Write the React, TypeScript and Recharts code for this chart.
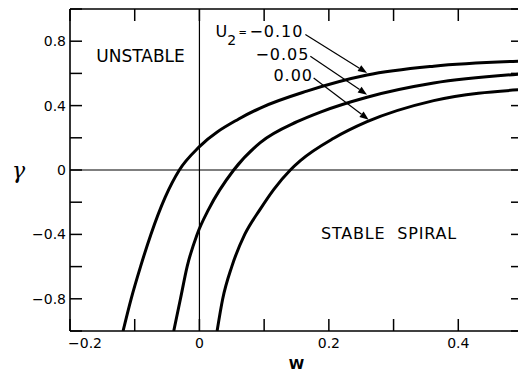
import React from "react";
import { LineChart, Line, XAxis, YAxis, ReferenceLine, ReferenceDot, Label } from "recharts";

// ---- data ----
const wA = [-0.118, -0.1055, -0.091, -0.075, -0.053, -0.031, 0, 0.0607, 0.094, 0.166, 0.259, 0.362, 0.5];
const gA = [-1.0, -0.8, -0.6, -0.4, -0.17, 0, 0.145, 0.317, 0.385, 0.49, 0.59, 0.645, 0.677];

const wB = [-0.0397, -0.0293, -0.019, -0.0036, 0.0144, 0.053, 0.094, 0.151, 0.187, 0.259, 0.362, 0.5];
const gB = [-1.0, -0.8, -0.6, -0.4, -0.243, 0, 0.17, 0.3, 0.36, 0.452, 0.54, 0.597];

const wC = [0.0273, 0.036, 0.05, 0.07, 0.094, 0.115, 0.1405, 0.156, 0.2075, 0.259, 0.362, 0.5];
const gC = [-1.0, -0.8, -0.6, -0.4, -0.243, -0.12, 0, 0.058, 0.197, 0.3, 0.431, 0.5];

const xTicks = [-0.2, -0.1, 0, 0.1, 0.2, 0.3, 0.4, 0.5];
const xTickLabels = ["\u22120.2", "", "0", "", "0.2", "", "0.4", ""];
const yTicks = [-1, -0.8, -0.6, -0.4, -0.2, 0, 0.2, 0.4, 0.6, 0.8, 1];
const yTickLabels = ["", "\u22120.8", "", "\u22120.4", "", "0", "", "0.4", "", "0.8", ""];

const legendValues = ["\u22120.10", "\u22120.05", "0.00"];
const legendW = [0.0247, 0.0865, 0.1143];
const legendG = [0.823, 0.686, 0.552];
const arrowStartW = [0.1637, 0.1714, 0.1765];
const arrowStartG = [0.842, 0.707, 0.572];
const arrowEndW = [0.259, 0.259, 0.2615];
const arrowEndG = [0.603, 0.468, 0.312];

const regionLabels = ["UNSTABLE", "STABLE SPIRAL"];
const regionW = [-0.091, 0.293];
const regionG = [0.705, -0.392];

const toRows = (w: number[], g: number[]) => w.map((v, i) => ({ w: v, g: g[i] }));
const dataA = toRows(wA, gA);
const dataB = toRows(wB, gB);
const dataC = toRows(wC, gC);

const FONT = "DejaVu Sans, Liberation Sans, Arial, sans-serif";
const TICK_LEN = 12;

const labelFor = (ticks: number[], labels: string[], v: number) => {
  const i = ticks.findIndex((t) => Math.abs(t - v) < 1e-9);
  return i >= 0 ? labels[i] : "";
};

const BottomTick = (props: any) => {
  const { x, y, payload, index } = props;
  const lab = labelFor(xTicks, xTickLabels, payload.value);
  const first = index === 0;
  return (
    <g>
      <line x1={x} y1={y} x2={x} y2={y - TICK_LEN} stroke="#000" strokeWidth={1.5} />
      {lab ? (
        <text x={first ? x - 2 : x} y={y + 17} textAnchor={first ? "start" : "middle"} fontSize={14} fontFamily={FONT} fill="#000">
          {lab}
        </text>
      ) : null}
    </g>
  );
};

const TopTick = (props: any) => {
  const { x, y } = props;
  return <line x1={x} y1={y} x2={x} y2={y + TICK_LEN} stroke="#000" strokeWidth={1.5} />;
};

const LeftTick = (props: any) => {
  const { x, y, payload } = props;
  const lab = labelFor(yTicks, yTickLabels, payload.value);
  return (
    <g>
      <line x1={x} y1={y} x2={x + TICK_LEN} y2={y} stroke="#000" strokeWidth={1.5} />
      {lab ? (
        <text x={x - 4} y={y + 5} textAnchor="end" fontSize={14} fontFamily={FONT} fill="#000">
          {lab}
        </text>
      ) : null}
    </g>
  );
};

const RightTick = (props: any) => {
  const { x, y } = props;
  return <line x1={x} y1={y} x2={x - TICK_LEN} y2={y} stroke="#000" strokeWidth={1.5} />;
};

const Arrow = (props: any) => {
  const { x1, y1, x2, y2 } = props;
  const ang = Math.atan2(y2 - y1, x2 - x1);
  const L = 9;
  const H = 3.5;
  const bx = x2 - L * Math.cos(ang);
  const by = y2 - L * Math.sin(ang);
  const px = -Math.sin(ang) * H;
  const py = Math.cos(ang) * H;
  return (
    <g>
      <line x1={x1} y1={y1} x2={bx} y2={by} stroke="#000" strokeWidth={1.2} />
      <polygon points={`${x2},${y2} ${bx + px},${by + py} ${bx - px},${by - py}`} fill="#000" />
    </g>
  );
};

export default function App() {
  return (
    <div style={{ position: "fixed", left: 0, top: 0, width: 518, height: 371, overflow: "hidden", background: "#fff" }}>
      <LineChart width={540} height={371} margin={{ top: 8, right: 16, bottom: 0, left: 10 }}>
        <XAxis
          xAxisId="b"
          type="number"
          dataKey="w"
          domain={[-0.2, 0.5]}
          ticks={xTicks}
          allowDataOverflow
          orientation="bottom"
          height={40}
          tickSize={0}
          tickMargin={0}
          tickLine={false}
          tick={<BottomTick />}
          interval={0}
          axisLine={{ stroke: "#000", strokeWidth: 1.6 }}
        >
          <Label value="W" position="insideBottom" offset={2} fontSize={14} fontWeight={600} fontFamily={FONT} fill="#000" />
        </XAxis>
        <XAxis
          xAxisId="t"
          type="number"
          dataKey="w"
          domain={[-0.2, 0.5]}
          ticks={xTicks}
          allowDataOverflow
          orientation="top"
          height={1}
          tickSize={0}
          tickMargin={0}
          tickLine={false}
          tick={<TopTick />}
          interval={0}
          axisLine={{ stroke: "#000", strokeWidth: 1.6 }}
        />
        <YAxis
          yAxisId="l"
          type="number"
          domain={[-1, 1]}
          ticks={yTicks}
          allowDataOverflow
          orientation="left"
          width={60}
          tickSize={0}
          tickMargin={0}
          tickLine={false}
          tick={<LeftTick />}
          interval={0}
          axisLine={{ stroke: "#000", strokeWidth: 1.6 }}
        >
          <Label value="γ" position="insideLeft" offset={2} fontSize={22} fontStyle="italic" fontFamily="DejaVu Serif, serif" fill="#000" />
        </YAxis>
        <YAxis
          yAxisId="r"
          type="number"
          domain={[-1, 1]}
          ticks={yTicks}
          allowDataOverflow
          orientation="right"
          width={1}
          tickSize={0}
          tickMargin={0}
          tickLine={false}
          tick={<RightTick />}
          interval={0}
          axisLine={{ stroke: "#000", strokeWidth: 1.6 }}
        />
        <ReferenceLine xAxisId="b" yAxisId="l" y={0} stroke="#000" strokeWidth={1.2} />
        <ReferenceLine xAxisId="b" yAxisId="l" x={0} stroke="#000" strokeWidth={1.2} />

        <Line xAxisId="b" yAxisId="l" data={dataA} dataKey="g" type="monotone" stroke="#000" strokeWidth={3} dot={false} isAnimationActive={false} />
        <Line xAxisId="b" yAxisId="l" data={dataB} dataKey="g" type="monotone" stroke="#000" strokeWidth={3} dot={false} isAnimationActive={false} />
        <Line xAxisId="b" yAxisId="l" data={dataC} dataKey="g" type="monotone" stroke="#000" strokeWidth={3} dot={false} isAnimationActive={false} />

        {arrowStartW.map((sw, i) => (
          <ReferenceLine
            key={"ar" + i}
            xAxisId="b"
            yAxisId="l"
            segment={[
              { x: sw, y: arrowStartG[i] },
              { x: arrowEndW[i], y: arrowEndG[i] },
            ]}
            stroke="#000"
            shape={(p: any) => <Arrow {...p} />}
          />
        ))}

        <ReferenceDot
          xAxisId="b"
          yAxisId="l"
          x={legendW[0]}
          y={legendG[0]}
          r={0}
          shape={(p: any) => (
            <text x={p.cx} y={p.cy} fontSize={16} fontFamily={FONT} fill="#000">
              <tspan>U</tspan>
              <tspan dy={8} fontSize={14}>2</tspan>
              <tspan x={p.cx + 23} dy={-9} fontSize={10}>=</tspan>
              <tspan x={p.cx + 34} dy={1} letterSpacing={1}>{legendValues[0]}</tspan>
            </text>
          )}
        />
        {legendValues.slice(1).map((v, j) => (
          <ReferenceDot
            key={"lg" + j}
            xAxisId="b"
            yAxisId="l"
            x={legendW[j + 1]}
            y={legendG[j + 1]}
            r={0}
            shape={(p: any) => (
              <text x={p.cx} y={p.cy} fontSize={16} fontFamily={FONT} fill="#000" letterSpacing={1}>
                {v}
              </text>
            )}
          />
        ))}

        {regionLabels.map((t, i) => (
          <ReferenceDot
            key={"rg" + i}
            xAxisId="b"
            yAxisId="l"
            x={regionW[i]}
            y={regionG[i]}
            r={0}
            shape={(p: any) => (
              <text
                x={p.cx}
                y={p.cy}
                dy={6}
                textAnchor="middle"
                fontSize={i === 0 ? 17 : 16}
                fontFamily={FONT}
                fill="#000"
                letterSpacing={i === 0 ? 0 : 0.8}
                wordSpacing={i === 0 ? 0 : 6}
              >
                {t}
              </text>
            )}
          />
        ))}
      </LineChart>
    </div>
  );
}
